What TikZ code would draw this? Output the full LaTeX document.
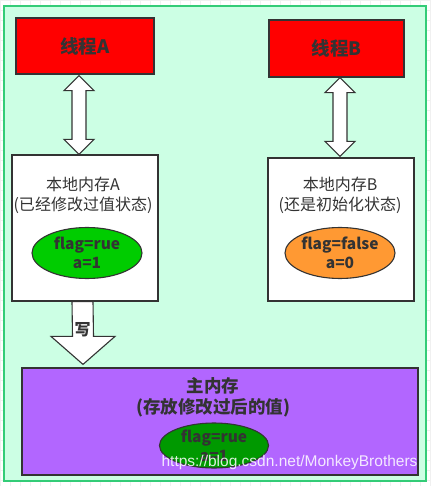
\documentclass[tikz,border=0pt]{standalone}
\usepackage{fontspec}
\setmainfont{Noto Sans CJK SC}
\newfontfamily\wmfont{Liberation Sans}
\usetikzlibrary{calc,shapes.geometric}
\definecolor{mint}{RGB}{204,255,228}
\definecolor{frame}{RGB}{51,204,119}
\definecolor{ink}{RGB}{51,51,51}
\definecolor{orng}{RGB}{255,153,51}
\definecolor{purp}{RGB}{178,102,255}
\definecolor{lgreen}{RGB}{0,204,0}
\definecolor{dgreen}{RGB}{0,153,0}
\tikzset{
  box/.style={draw=ink, line width=1.2pt, inner sep=0pt},
  blk/.style={draw=ink, line width=1.1pt, fill=white, line join=miter},
  var/.style={ellipse, draw=ink, line width=1.1pt, inner sep=0pt, text=ink, font=\bfseries\fontsize{15.5}{19}\selectfont, align=center},
}
\begin{document}
\begin{tikzpicture}[x=1pt, y=-1pt]
        \useasboundingbox (0,0) rectangle (430,486);
        \fill[white] (0,0) rectangle (430,486);
        \draw[black!6, step=10pt] (0,0) grid (430,486);
        \draw[frame, fill=mint, line width=1.5pt] (4,6) rectangle (426,481);
        \node[box, fill=red, minimum width=138pt, minimum height=56pt, text=ink, font=\bfseries\fontsize{18.5}{22}\selectfont] (thrA) at (85,46) {线程A};
        \node[box, fill=red, minimum width=135pt, minimum height=57pt, text=ink, font=\bfseries\fontsize{18.5}{22}\selectfont] (thrB) at (336.5,48.5) {线程B};
        \node[box, fill=white, minimum width=146pt, minimum height=146pt] (memA) at (85,228) {};
        \node[box, fill=white, minimum width=146pt, minimum height=143pt] (memB) at (341,229.5) {};
        \node[text=ink, align=center, font=\fontsize{16}{20}\selectfont] (txtA) at (83,195) {本地内存A\\(已经修改过值状态)};
        \node[text=ink, align=center, font=\fontsize{16}{20}\selectfont] (txtB) at (340,195) {本地内存B\\(还是初始化状态)};
        \node[var, fill=lgreen, minimum width=110pt, minimum height=51pt] (varA) at (87,253) {flag=rue\\a=1};
        \node[var, fill=orng, minimum width=110pt, minimum height=51pt] (varB) at (340,253) {flag=false\\a=0};
        \node[box, fill=purp, minimum width=396pt, minimum height=107pt] (main) at (220,421.5) {};
        \node[text=ink, align=center, font=\bfseries\fontsize{17.5}{21}\selectfont] (txtM) at (213,397) {主内存\\(存放修改过后的值)};
        \node[var, fill=dgreen, minimum width=109pt, minimum height=45pt] (varM) at (214,445.5) {flag=rue\\a=1};
        \coordinate (tA) at ($(thrA.south)+(-6,1)$);
        \coordinate (bA) at ($(memA.north)+(-6,0)$);
        \coordinate (tB) at ($(thrB.south)+(3.5,0)$);
        \coordinate (bB) at ($(memB.north)+(-1,-1)$);
        \draw[blk] (tA) -- ++(15,15) -- ++(-8,0) -- ($(bA)+(7,-15)$) -- ++(8,0) -- (bA) -- ++(-15,-15) -- ++(8,0) -- ($(tA)+(-7,15)$) -- ++(-8,0) -- cycle;
        \draw[blk] (tB) -- ++(15,15) -- ++(-8,0) -- ($(bB)+(7,-15)$) -- ++(8,0) -- (bB) -- ++(-15,-15) -- ++(8,0) -- ($(tB)+(-7,15)$) -- ++(-8,0) -- cycle;
        \coordinate (wT) at ($(memA.south)+(-2.5,0)$);
        \coordinate (wB) at ($(main.north)+(-137,-3)$);
        \draw[blk] (wT) ++(-10.5,0) -- ++(21,0) -- ($(wB)+(10.5,-28)$) -- ++(21.5,0) -- (wB) -- ++(-32,-28) -- ++(21.5,0) -- cycle;
        \node[text=ink, font=\bfseries\fontsize{16}{18}\selectfont] (lblW) at ($(wT)+(0,28)$) {写};
        \node[text=white, opacity=0.85, font=\wmfont\fontsize{15.5}{17}\selectfont, anchor=south east] (mark) at (421,473) {https://blog.csdn.net/MonkeyBrothers};
    \end{tikzpicture}
\end{document}
